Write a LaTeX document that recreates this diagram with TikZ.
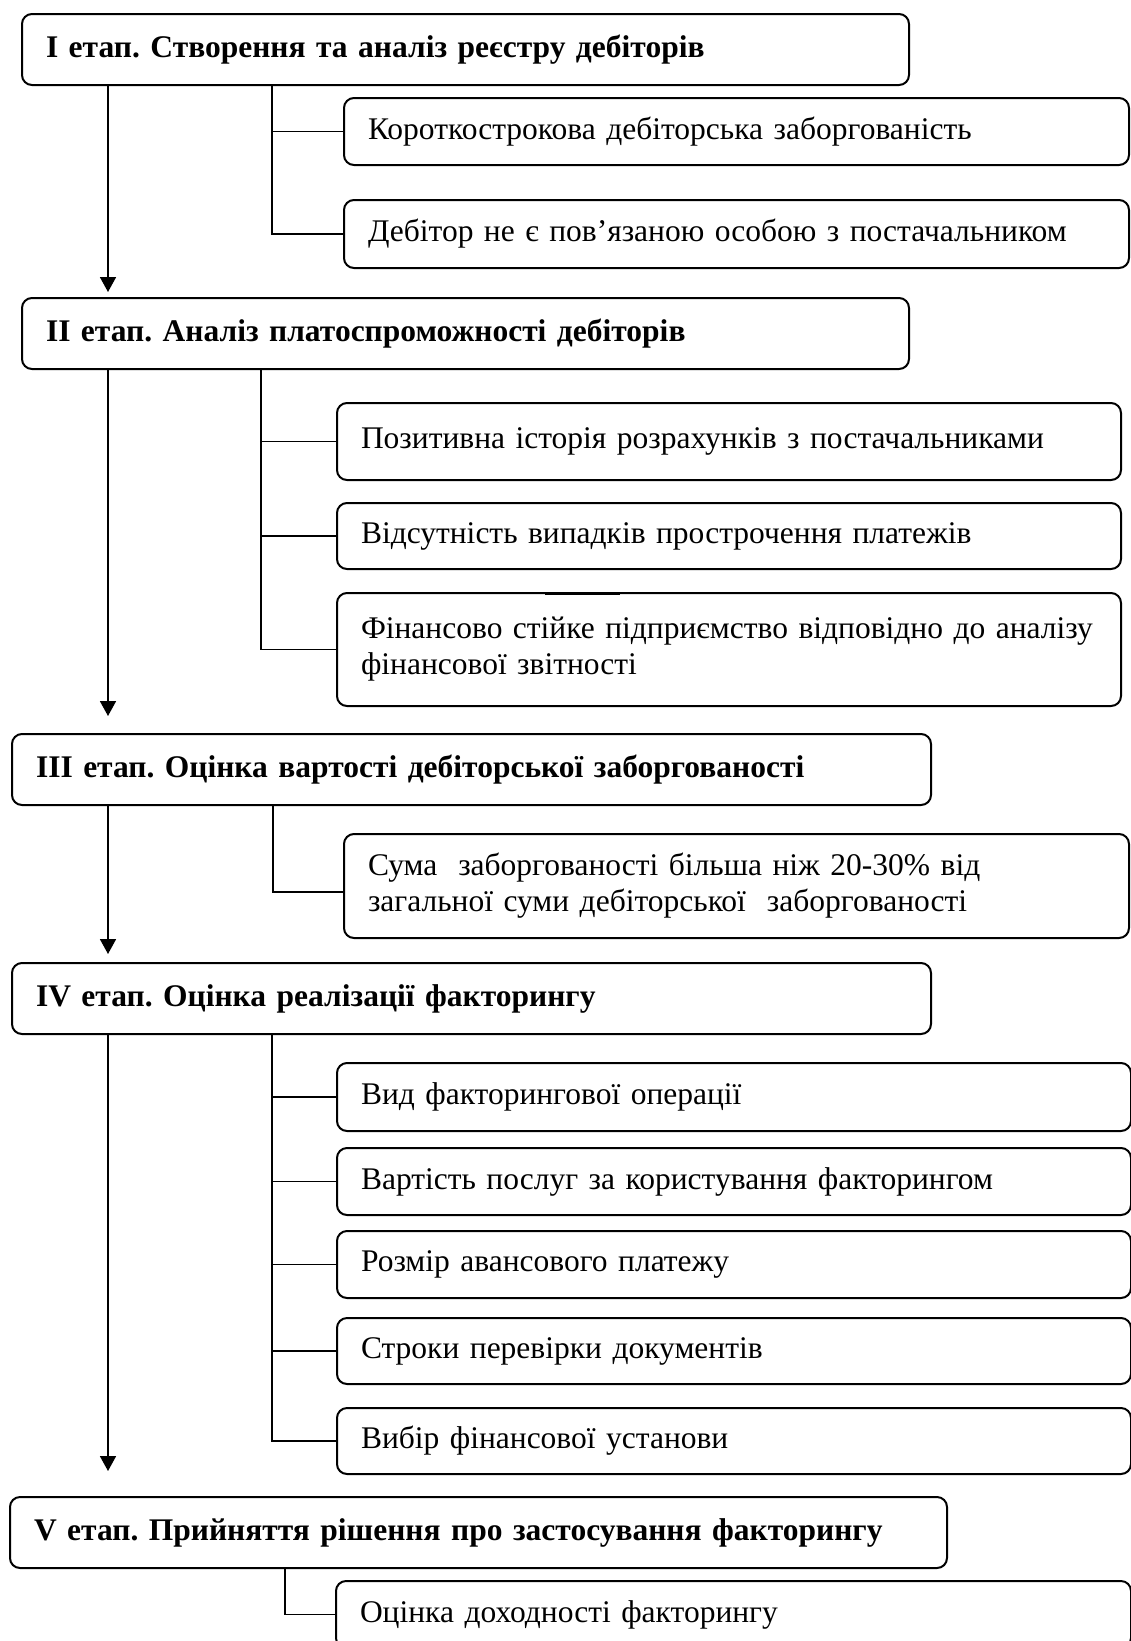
\documentclass[tikz,border=0pt]{standalone}
\usepackage{fontspec}
\setmainfont{Liberation Serif}
\usetikzlibrary{arrows.meta}
\frenchspacing
\tikzset{
  stage/.style={draw,line width=2pt,rounded corners=10pt,anchor=north west,align=left,
    inner xsep=24pt,inner ysep=0pt,font=\fontsize{31.5}{36}\selectfont\bfseries},
  item/.style={draw,line width=2pt,rounded corners=10pt,anchor=north west,align=left,
    inner xsep=24pt,inner ysep=0pt,font=\fontsize{31.5}{36}\selectfont},
  flow/.style={line width=1.8pt,-{Triangle[length=15pt,width=16pt]}},
  link/.style={line width=1.8pt}
}
\begin{document}
\begin{tikzpicture}[x=1pt,y=-1pt]
\useasboundingbox (0,0) rectangle (1131,1641);
\coordinate (spine) at (108,0);
\coordinate (fork1) at (272,0);
\coordinate (fork2) at (261,0);
\coordinate (fork3) at (273,0);
\coordinate (fork4) at (272,0);
\coordinate (fork5) at (285,0);

\node[stage,text width=839pt,minimum height=71pt] (s1) at (21,13) {I етап. Створення та аналіз реєстру дебіторів};
\node[item,text width=737pt,minimum height=67pt] (a1) at (343,97) {Короткострокова дебіторська заборгованість};
\node[item,text width=737pt,minimum height=68pt] (a2) at (343,199) {Дебітор не є пов’язаною особою з постачальником};

\node[stage,text width=839pt,minimum height=71pt] (s2) at (21,297) {II етап. Аналіз платоспроможності дебіторів};
\node[item,text width=736pt,minimum height=77pt] (b1) at (336,402) {Позитивна історія розрахунків з постачальниками};
\node[item,text width=736pt,minimum height=66pt] (b2) at (336,502) {Відсутність випадків прострочення платежів};
\node[item,text width=736pt,minimum height=113pt] (b3) at (336,592) {\mbox{Фінансово стійке підприємство відповідно до аналізу}\\ фінансової звітності};

\node[stage,text width=871pt,minimum height=71pt] (s3) at (11,733) {III етап. Оцінка вартості дебіторської заборгованості};
\node[item,text width=737pt,minimum height=104pt] (c1) at (343,833) {Сума\ \ заборгованості більша ніж 20-30\% від\\ загальної суми дебіторської\ \ заборгованості};

\node[stage,text width=871pt,minimum height=71pt] (s4) at (11,962) {IV етап. Оцінка реалізації факторингу};
\node[item,text width=746pt,minimum height=68pt] (d1) at (336,1062) {Вид факторингової операції};
\node[item,text width=746pt,minimum height=67pt] (d2) at (336,1147) {Вартість послуг за користування факторингом};
\node[item,text width=746pt,minimum height=67pt] (d3) at (336,1230) {Розмір авансового платежу};
\node[item,text width=746pt,minimum height=66pt] (d4) at (336,1317) {Строки перевірки документів};
\node[item,text width=746pt,minimum height=66pt] (d5) at (336,1407) {Вибір фінансової установи};

\node[stage,text width=889pt,minimum height=71pt] (s5) at (9,1496) {V етап. Прийняття рішення про застосування факторингу};
\node[item,text width=747pt,minimum height=67pt] (e1) at (335,1580) {Оцінка доходності факторингу};

\path[draw,flow,shorten >=5pt] (s1.south -| spine) -- (s2.north -| spine);
\path[draw,flow,shorten >=17pt] (s2.south -| spine) -- (s3.north -| spine);
\path[draw,flow,shorten >=8pt] (s3.south -| spine) -- (s4.north -| spine);
\path[draw,flow,shorten >=25pt] (s4.south -| spine) -- (s5.north -| spine);

\path[draw,link] (s1.south -| fork1) |- (a2.west);
\path[draw,link] (fork1 |- a1.west) -- (a1.west);

\path[draw,link] (s2.south -| fork2) |- (b3.west);
\path[draw,link] (fork2 |- b1.west) -- (b1.west);
\path[draw,link] (fork2 |- b2.west) -- (b2.west);
\path[draw,line width=2.5pt] (545,594) -- (620,594);

\path[draw,link] (s3.south -| fork3) |- ([yshift=-6pt]c1.west);

\path[draw,link] (s4.south -| fork4) |- (d5.west);
\path[draw,link] (fork4 |- d1.west) -- (d1.west);
\path[draw,link] (fork4 |- d2.west) -- (d2.west);
\path[draw,link] (fork4 |- d3.west) -- (d3.west);
\path[draw,link] (fork4 |- d4.west) -- (d4.west);

\path[draw,link] (s5.south -| fork5) |- (e1.west);
\end{tikzpicture}
\end{document}
